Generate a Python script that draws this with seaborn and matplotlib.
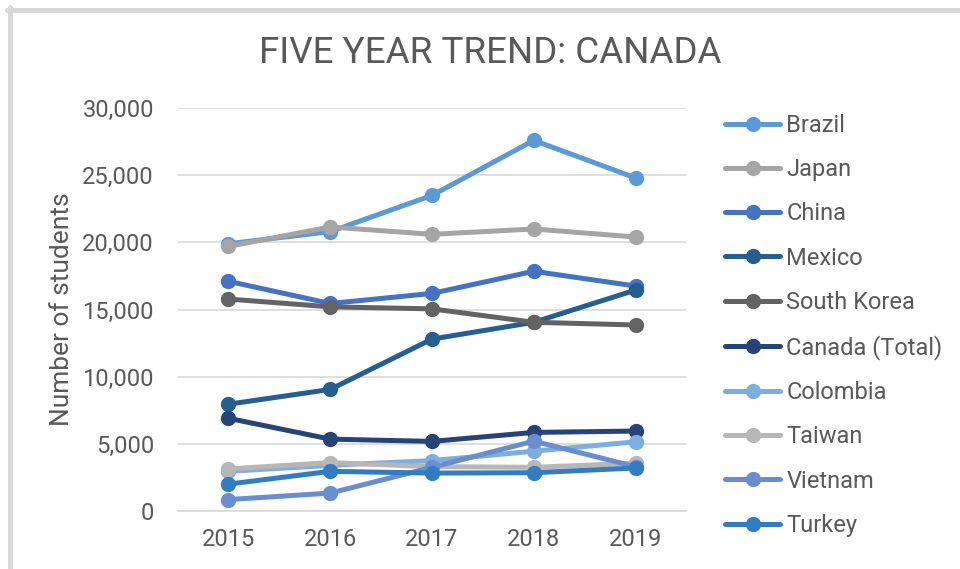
import matplotlib
matplotlib.use("Agg")
import matplotlib.pyplot as plt
import seaborn as sns
import pandas as pd
from matplotlib.ticker import FuncFormatter, MultipleLocator

# data
years = [2015, 2016, 2017, 2018, 2019]
countries = ["Brazil", "Japan", "China", "Mexico", "South Korea",
             "Canada (Total)", "Colombia", "Taiwan", "Vietnam", "Turkey"]
brazil = [19900, 20800, 23500, 27600, 24800]
japan = [19700, 21150, 20600, 21000, 20400]
china = [17100, 15450, 16200, 17850, 16750]
mexico = [7950, 9050, 12800, 14050, 16450]
south_korea = [15780, 15200, 15050, 14050, 13850]
canada_total = [6900, 5350, 5180, 5850, 5950]
colombia = [2950, 3400, 3750, 4450, 5150]
taiwan = [3130, 3600, 3300, 3250, 3550]
vietnam = [850, 1330, 3250, 5200, 3300]
turkey = [2000, 2950, 2820, 2850, 3200]

colors = ["#5B9BD5", "#A5A5A5", "#4472C4", "#255E91", "#636363",
          "#264478", "#7CAFDD", "#B7B7B7", "#698ED0", "#327DC2"]

series = [brazil, japan, china, mexico, south_korea,
          canada_total, colombia, taiwan, vietnam, turkey]
df = pd.DataFrame([
    {"Year": y, "Country": c, "Students": v}
    for c, vals in zip(countries, series)
    for y, v in zip(years, vals)
])

sns.set_style("white")
plt.rcParams["font.family"] = ["Roboto", "DejaVu Sans"]
text_col = "#595959"

fig = plt.figure(figsize=(9.6, 5.69), dpi=100)
ax = fig.add_axes([0.185, 0.102, 0.53, 0.708])

sns.lineplot(data=df, x="Year", y="Students", hue="Country", hue_order=countries,
             palette=colors, marker="o", markersize=11, markeredgewidth=0,
             linewidth=3.6, ax=ax, legend=False)

ax.set_xlim(2014.5, 2019.5)
ax.set_ylim(0, 30000)
ax.yaxis.set_major_locator(MultipleLocator(5000))
ax.yaxis.set_major_formatter(FuncFormatter(lambda v, p: f"{int(v):,}"))
ax.set_xticks(years)
ax.grid(axis="y", color="#D9D9D9", linewidth=1.2)
ax.set_axisbelow(True)
for s in ["top", "right", "left"]:
    ax.spines[s].set_visible(False)
ax.spines["bottom"].set_color("#D9D9D9")
ax.spines["bottom"].set_linewidth(1.2)
ax.tick_params(axis="both", length=0, labelsize=17, colors=text_col)
ax.tick_params(axis="y", pad=17)
ax.tick_params(axis="x", pad=12)
ax.set_xlabel("")
ax.set_ylabel("Number of students", fontsize=19, color=text_col, labelpad=6)

fig.text(0.511, 0.907, "FIVE YEAR TREND: CANADA", ha="center", va="center",
         fontsize=26.5, color=text_col)

handles = [plt.Line2D([0], [0], color=c, lw=3.6, marker="o", markersize=11,
                      markeredgewidth=0) for c in colors]
leg = fig.legend(handles, countries, loc="upper left", bbox_to_anchor=(0.755, 0.80),
                 frameon=False, fontsize=17, handlelength=2.35, handletextpad=0.25,
                 labelspacing=0.90, borderaxespad=0, borderpad=0)
for t in leg.get_texts():
    t.set_color(text_col)

# chart frame: only top and left edges are visible (cropped screenshot)
fig.add_artist(plt.Line2D([7 / 960, 1], [1 - 9.5 / 569] * 2, transform=fig.transFigure,
                          color="#D9D9D9", linewidth=3.6))
fig.add_artist(plt.Line2D([10 / 960] * 2, [0, 1 - 7 / 569], transform=fig.transFigure,
                          color="#D9D9D9", linewidth=3.6))

fig.savefig("out.png", dpi=100)
